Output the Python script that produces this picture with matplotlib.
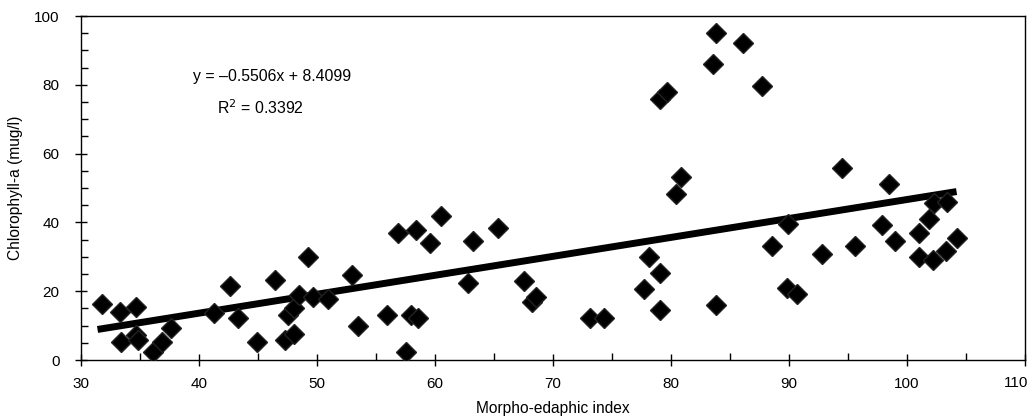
import matplotlib
matplotlib.use("Agg")
import matplotlib.pyplot as plt
import numpy as np
from matplotlib.ticker import MultipleLocator, FuncFormatter

plt.rcParams['font.family'] = ['Liberation Sans', 'DejaVu Sans']

# values
mei = [31.75, 33.3, 34.7, 33.4, 34.7, 34.8, 36.1, 36.9, 37.6, 41.3,
       42.6, 43.3, 44.9, 46.4, 47.3, 48.05, 47.5, 48.05, 48.5, 49.2,
       49.7, 50.9, 53.0, 53.5, 55.95, 56.9, 57.5, 58.0, 58.6, 58.4,
       59.6, 60.5, 62.8, 63.2, 65.3, 67.5, 68.2, 68.6, 73.15, 74.3,
       78.1, 79.1, 77.7, 79.1, 80.85, 80.4, 79.1, 79.7, 83.8, 86.1,
       83.6, 87.7, 83.8, 88.6, 89.9, 89.85, 90.7, 92.8, 94.5, 95.6,
       97.85, 98.5, 99.0, 101.0, 101.0, 101.9, 102.3, 103.4, 102.2, 103.3,
       104.2]
chla = [16.2, 14.0, 15.3, 5.3, 7.3, 5.8, 2.4, 5.3, 9.2, 13.8,
        21.5, 12.1, 5.3, 23.3, 5.8, 7.7, 13.1, 15.0, 18.9, 30.0,
        18.4, 17.6, 24.7, 9.9, 13.1, 37.0, 2.2, 13.1, 12.1, 37.8,
        33.9, 41.9, 22.3, 34.7, 38.5, 23.1, 17.0, 18.4, 12.3, 12.1,
        30.0, 25.2, 20.5, 14.5, 53.3, 48.4, 75.8, 78.0, 95.1, 92.1,
        86.0, 79.6, 16.0, 33.1, 39.4, 20.8, 19.2, 30.8, 55.7, 33.1,
        39.2, 51.2, 34.7, 37.0, 30.0, 40.9, 45.5, 46.0, 29.0, 31.8,
        35.5]

# trend line as drawn (label text kept as in the original)
slope = 0.5506
intercept = -8.4099
eq_text = "y = \u20130.5506x + 8.4099"
r2_text = "R$^2$ = 0.3392"

x_min, x_max = 30, 110

fig = plt.figure(figsize=(10.33, 4.18), dpi=100)
ax = fig.add_axes([81 / 1033, 1 - 360 / 418, 944 / 1033, 344 / 418])

xl = np.array([31.4, max(mei)])
ax.plot(xl, slope * xl + intercept, color='black', lw=5, solid_capstyle='butt', zorder=3)
ax.plot(mei, chla, linestyle='none', marker='D', markersize=10,
        color='black', markeredgecolor='#222222', zorder=4)

ax.set_xlim(x_min, x_max)
ax.set_ylim(0, 100)
ax.xaxis.set_major_locator(MultipleLocator(10))
ax.xaxis.set_minor_locator(MultipleLocator(5))
ax.yaxis.set_major_locator(MultipleLocator(20))
ax.yaxis.set_minor_locator(MultipleLocator(5))
# the last x label is drawn separately so it stays inside the picture
ax.xaxis.set_major_formatter(FuncFormatter(lambda v, p: '' if v >= x_max else f'{v:g}'))
ax.tick_params(which='major', direction='inout', length=9, width=1, labelsize=11)
ax.tick_params(which='minor', direction='in', length=5, width=1)
ax.tick_params(axis='x', which='major', pad=8)
ax.tick_params(axis='y', which='major', pad=11)
ax.tick_params(axis='x', which='both', top=False)
ax.tick_params(axis='y', which='both', right=False)
for s in ax.spines.values():
    s.set_linewidth(1)

ax.annotate(f'{x_max:g}', xy=(x_max, 0), xycoords='data',
            xytext=(2, -11.2), textcoords='offset points',
            ha='right', va='top', fontsize=11, annotation_clip=False)

ax.text(272 / 1033, 1 - 76 / 418, eq_text, transform=fig.transFigure,
        ha='center', va='center', fontsize=11.4)
ax.text(260 / 1033, 1 - 108 / 418, r2_text, transform=fig.transFigure,
        ha='center', va='center', fontsize=11.4)

ax.set_xlabel("Morpho-edaphic index", fontsize=11.2, labelpad=7)
ax.set_ylabel("Chlorophyll-a (mug/l)", fontsize=11.2, labelpad=8)

fig.savefig("out.png", dpi=100)
